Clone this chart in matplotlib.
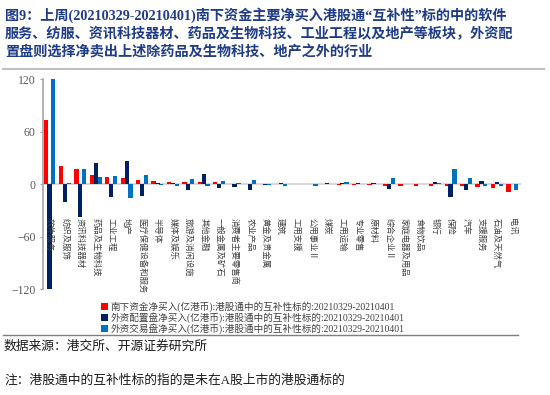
import matplotlib
matplotlib.use('Agg')
import matplotlib.pyplot as plt
from matplotlib.lines import Line2D
from matplotlib.transforms import offset_copy
import numpy as np

# categories (HK Connect industries) and weekly net buys, 100m HKD
categories = ['软件服务', '纺织及服饰', '资讯科技器材', '药品及生物科技', '工业工程', '地产',
              '医疗保健设备和服务', '半导体', '媒体及娱乐', '旅游及消闲设施', '其他金融',
              '一般金属及矿石', '消费者主要零售商', '农业产品', '黄金及贵金属', '建筑',
              '工用支援', '公用事业Ⅱ', '煤炭', '工用运输', '专业零售', '原材料', '综合企业Ⅱ',
              '家庭电器及用品', '食物饮品', '银行', '保险', '汽车', '支援服务', '石油及天然气', '电讯']
southbound = [73, 21, 17.5, 11, 8.5, 7.6, 4.6, 3.8, 3, 3, 2.7, 2.7, 0.8, 0.8, 0.7, 0.7,
              0, 0, 0, -0.8, -1, -1, -2, -2, -2, -2, -2, -2, -3, -4, -9]
foreign_alloc = [-120, -20, -37, 24, -14.5, 27, -13.4, 1.5, 2, -7, 11.5, -4, -3, -7, -0.3, 2,
                 0, 0.3, 2, 2, 2, 1.5, -5.3, 0.3, 0.3, 3, -15, -6, 4, 3, 0.5]
foreign_trade = [120, 1, 17, 8.5, 10, -16, 11, -1, -2, 6, -2.5, 3.4, 2, 5.3, -0.8, -2,
                 0.5, -2, 0, 2.5, 0.5, 0.8, 7.6, 0.8, 0.8, 1.5, 17, 7.6, -2, -2, -6]
series_labels = ['南下资金净买入(亿港币):港股通中的互补性标的:20210329-20210401',
                 '外资配置盘净买入(亿港币):港股通中的互补性标的:20210329-20210401',
                 '外资交易盘净买入(亿港币):港股通中的互补性标的:20210329-20210401']
yticks = [-120, -60, 0, 60, 120]

title_lines = ['图9：上周(20210329-20210401)南下资金主要净买入港股通“互补性”标的中的软件',
               '服务、纺服、资讯科技器材、药品及生物科技、工业工程以及地产等板块，外资配',
               '置盘则选择净卖出上述除药品及生物科技、地产之外的行业']

mixed = ['Liberation Serif', 'Noto Sans CJK SC']
W, H = 550, 395

fig = plt.figure(figsize=(5.5, 3.95), dpi=100)
ax = fig.add_axes([42.5 / W, (H - 289.3) / H, (520 - 42.5) / W, (289.3 - 79.3) / H])

x = np.arange(len(categories))
w = 0.27
ax.bar(x - 0.25, southbound, w, color='#FF0000', label=series_labels[0], zorder=3)
ax.bar(x, foreign_alloc, w, color='#002060', label=series_labels[1], zorder=3)
ax.bar(x + 0.25, foreign_trade, w, color='#0070C0', label=series_labels[2], zorder=3)

ax.set_xlim(-0.45, len(categories) - 0.5)
ax.set_ylim(-120, 120)
ax.set_yticks(yticks)
ax.tick_params(axis='y', direction='out', length=2.5, width=0.8, color='#A6A6A6', pad=2.5,
               labelcolor='#595959', labelsize=8.5)
for t in ax.get_yticklabels():
    t.set_family('Liberation Serif')

ax.spines['top'].set_visible(False)
ax.spines['right'].set_visible(False)
ax.spines['left'].set_color('#A6A6A6')
ax.spines['left'].set_linewidth(1.2)
ax.spines['bottom'].set_position(('data', 0))
ax.spines['bottom'].set_color('#D9D9D9')
ax.spines['bottom'].set_linewidth(1.5)
ax.spines['bottom'].set_zorder(2)

# category labels sit a fixed distance under the zero line, reading downwards
ax.set_xticks(x)
ax.set_xticklabels([])
ax.tick_params(axis='x', length=0)
lab_tr = offset_copy(ax.transData, fig=fig, y=-34, units='dots')
for xi, name in zip(x, categories):
    ax.text(xi, 0, name, transform=lab_tr, rotation=-90, rotation_mode='anchor',
            ha='left', va='center', family='Noto Sans CJK SC', fontsize=6, color='#404040')

leg = ax.legend(loc='upper left', bbox_to_anchor=(101 / W, 1 - 301.5 / H),
                bbox_transform=fig.transFigure, frameon=False,
                prop={'family': mixed, 'size': 6.9}, handlelength=0.7, handleheight=0.7,
                handletextpad=0.3, labelspacing=0.02, borderpad=0, borderaxespad=0)
for t in leg.get_texts():
    t.set_color('#404040')

# title block
title_y = [15, 33.5, 52]
for line, yy in zip(title_lines, title_y):
    fig.text(5 / W, 1 - yy / H, line, va='center', ha='left', fontsize=10.2,
             fontweight='bold', color='#1F3C88', family=mixed)

fig.add_artist(Line2D([3 / W, 544 / W], [1 - 69 / H] * 2, color='#BFBFBF', lw=1.5))
fig.add_artist(Line2D([3 / W, 518 / W], [1 - 335 / H] * 2, color='#7F7F7F', lw=1))

fig.text(4 / W, 1 - 347 / H, '数据来源：港交所、开源证券研究所', va='center', ha='left',
         fontsize=9.2, color='#1A1A1A', family=mixed)
fig.text(4 / W, 1 - 381 / H, '注：港股通中的互补性标的指的是未在A股上市的港股通标的', va='center', ha='left',
         fontsize=9.2, color='#1A1A1A', family=mixed)

fig.savefig('out.png', dpi=100)
